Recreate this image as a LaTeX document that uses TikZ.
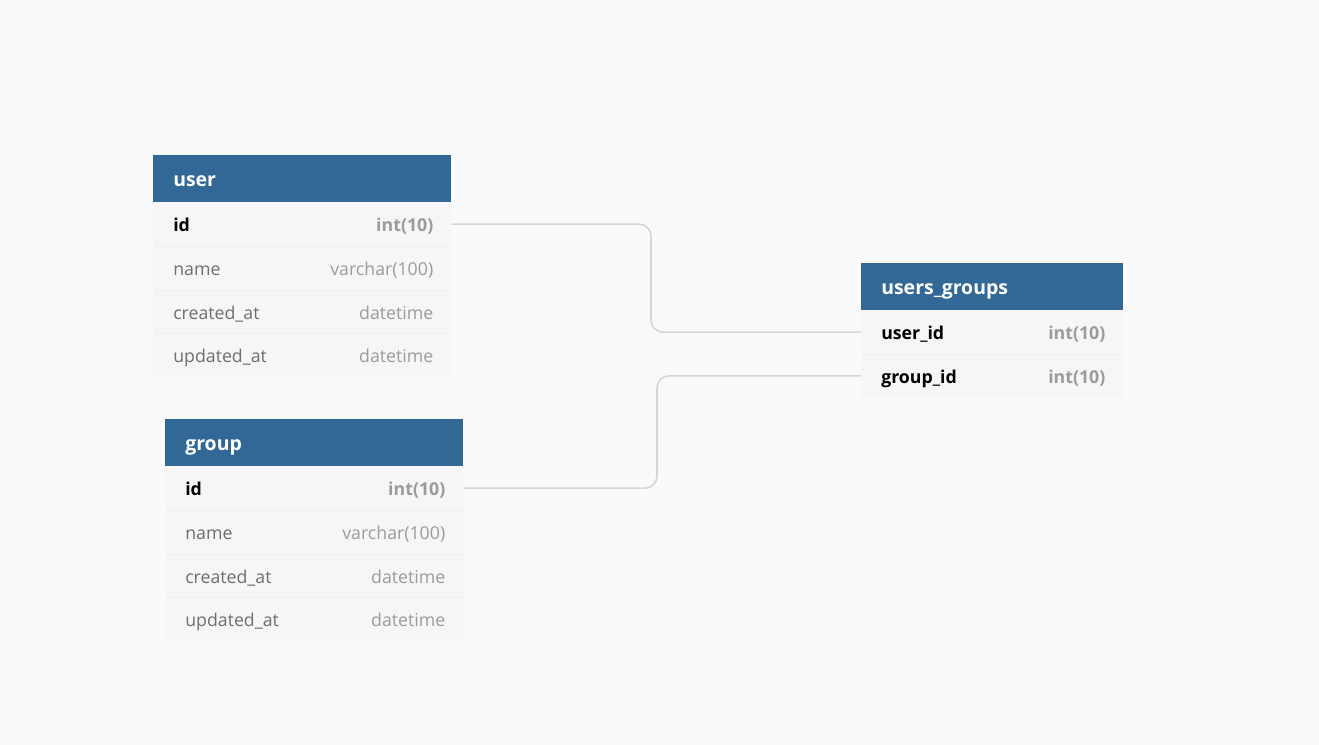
\documentclass[tikz,border=0pt]{standalone}
\usepackage{fontspec}
\setmainfont{Open Sans}
\usetikzlibrary{positioning}
\definecolor{bggray}{HTML}{FAFAFA}
\definecolor{headblue}{HTML}{316895}
\definecolor{rowgray}{HTML}{F6F6F6}
\definecolor{sepgray}{HTML}{F0F0F0}
\definecolor{linkgray}{HTML}{D6D6D6}
\definecolor{namegray}{HTML}{6E6E6E}
\definecolor{typegray}{HTML}{9B9B9B}

\begin{document}
\begin{tikzpicture}[x=0.75pt, y=-0.75pt,
		tablehead/.style={rectangle, fill=headblue, anchor=north west, inner sep=0pt, minimum height=35.25pt},
		rowbox/.style={rectangle, fill=rowgray, anchor=north west, inner sep=0pt, minimum height=32.8pt},
		cell/.style={inner sep=0pt, text height=1ex, text depth=0pt, yshift=-3pt},
		headtext/.style={cell, text=white, font=\fontsize{14.6}{17}\selectfont\bfseries},
		keyname/.style={cell, text=black, font=\fontsize{13.3}{16}\selectfont\bfseries},
		fieldname/.style={cell, text=namegray, font=\fontsize{13.3}{16}\selectfont},
		keytype/.style={cell, text=typegray, font=\fontsize{13.3}{16}\selectfont\bfseries},
		fieldtype/.style={cell, text=typegray, font=\fontsize{13.3}{16}\selectfont},
		rowsep/.style={draw=sepgray, line width=0.5pt},
		link/.style={draw=linkgray, line width=1.2pt, rounded corners=9pt}]

		\fill[bggray] (0,0) rectangle (1319,745);

		% user
		\node[tablehead, minimum width=223.5pt] (user) at (153,155) {};
		\node[headtext, right=15pt of user.west] (user-title) {user};
		\node[rowbox, minimum width=223.5pt] (user-id) at (153,202) {};
		\node[rowbox, minimum width=223.5pt] (user-name) at (153,245.75) {};
		\node[rowbox, minimum width=223.5pt] (user-created) at (153,289.5) {};
		\node[rowbox, minimum width=223.5pt] (user-updated) at (153,333.25) {};
		\draw[rowsep] (user-id.south west) -- (user-id.south east);
		\draw[rowsep] (user-name.south west) -- (user-name.south east);
		\draw[rowsep] (user-created.south west) -- (user-created.south east);
		\node[keyname, right=15pt of user-id.west] (user-id-n) {id};
		\node[keytype, left=13.5pt of user-id.east] (user-id-t) {int(10)};
		\node[fieldname, right=15pt of user-name.west] (user-name-n) {name};
		\node[fieldtype, left=13.5pt of user-name.east] (user-name-t) {varchar(100)};
		\node[fieldname, right=15pt of user-created.west] (user-created-n) {created\_at};
		\node[fieldtype, left=13.5pt of user-created.east] (user-created-t) {datetime};
		\node[fieldname, right=15pt of user-updated.west] (user-updated-n) {updated\_at};
		\node[fieldtype, left=13.5pt of user-updated.east] (user-updated-t) {datetime};

		% group
		\node[tablehead, minimum width=223.5pt] (group) at (165,419) {};
		\node[headtext, right=15pt of group.west] (group-title) {group};
		\node[rowbox, minimum width=223.5pt] (group-id) at (165,466) {};
		\node[rowbox, minimum width=223.5pt] (group-name) at (165,509.75) {};
		\node[rowbox, minimum width=223.5pt] (group-created) at (165,553.5) {};
		\node[rowbox, minimum width=223.5pt] (group-updated) at (165,597.25) {};
		\draw[rowsep] (group-id.south west) -- (group-id.south east);
		\draw[rowsep] (group-name.south west) -- (group-name.south east);
		\draw[rowsep] (group-created.south west) -- (group-created.south east);
		\node[keyname, right=15pt of group-id.west] (group-id-n) {id};
		\node[keytype, left=13.5pt of group-id.east] (group-id-t) {int(10)};
		\node[fieldname, right=15pt of group-name.west] (group-name-n) {name};
		\node[fieldtype, left=13.5pt of group-name.east] (group-name-t) {varchar(100)};
		\node[fieldname, right=15pt of group-created.west] (group-created-n) {created\_at};
		\node[fieldtype, left=13.5pt of group-created.east] (group-created-t) {datetime};
		\node[fieldname, right=15pt of group-updated.west] (group-updated-n) {updated\_at};
		\node[fieldtype, left=13.5pt of group-updated.east] (group-updated-t) {datetime};

		% users_groups
		\node[tablehead, minimum width=196.5pt] (ug) at (861,263) {};
		\node[headtext, right=15pt of ug.west] (ug-title) {users\_groups};
		\node[rowbox, minimum width=196.5pt] (ug-user) at (861,310) {};
		\node[rowbox, minimum width=196.5pt] (ug-group) at (861,353.75) {};
		\draw[rowsep] (ug-user.south west) -- (ug-user.south east);
		\node[keyname, right=15pt of ug-user.west] (ug-user-n) {user\_id};
		\node[keytype, left=13.5pt of ug-user.east] (ug-user-t) {int(10)};
		\node[keyname, right=15pt of ug-group.west] (ug-group-n) {group\_id};
		\node[keytype, left=13.5pt of ug-group.east] (ug-group-t) {int(10)};

		% links
		\coordinate (bend-user) at (651,0);
		\coordinate (bend-group) at (657,0);
		\draw[link] (user-id.east) -- (user-id.east -| bend-user) -- (ug-user.west -| bend-user) -- (ug-user.west);
		\draw[link] (group-id.east) -- (group-id.east -| bend-group) -- (ug-group.west -| bend-group) -- (ug-group.west);
	\end{tikzpicture}
\end{document}
